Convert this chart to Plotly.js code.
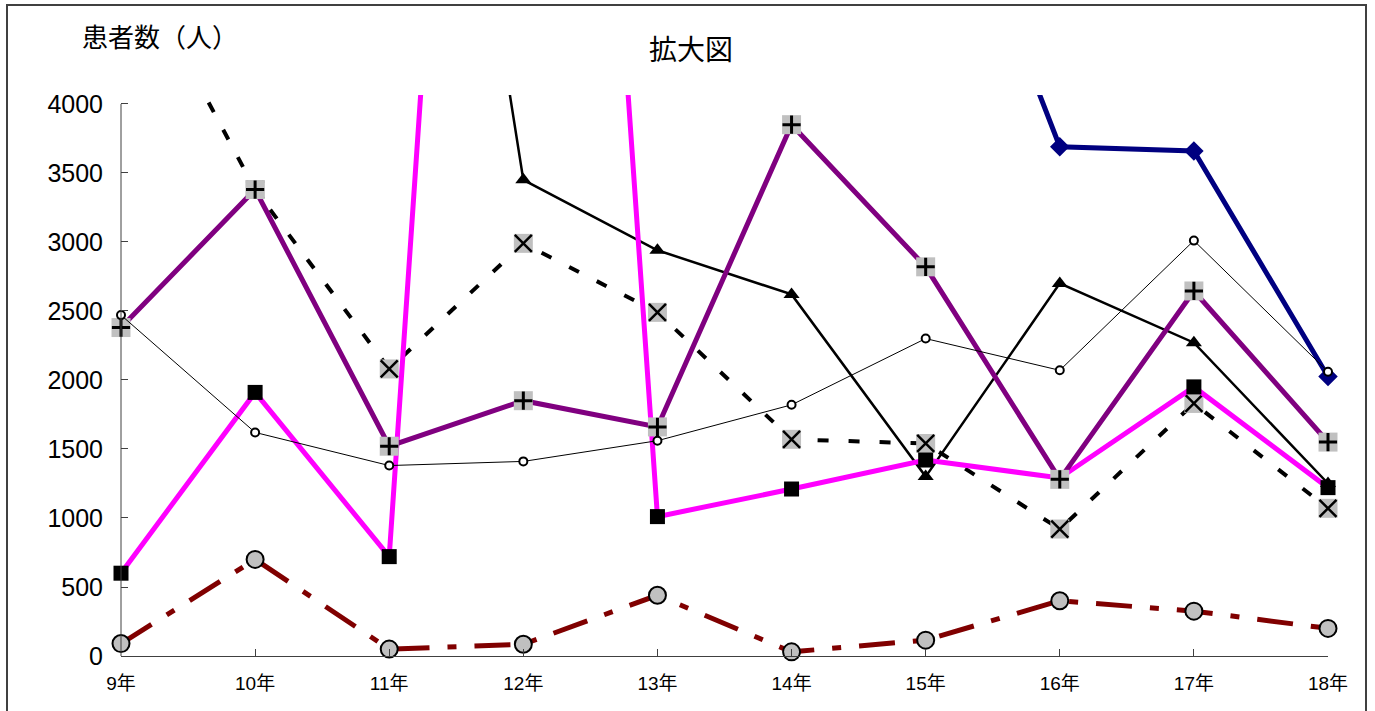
<!DOCTYPE html>
<html>
<head>
<meta charset="utf-8">
<script src="https://cdn.plot.ly/plotly-3.0.1.min.js"></script>
<style>html,body{margin:0;padding:0;background:#fff;}#chart{width:1375px;height:711px;}</style>
</head>
<body>
<div id="chart"></div>
<script>
// categories (years)
const years = ["9年","10年","11年","12年","13年","14年","15年","16年","17年","18年"];
const yTicks = [0, 500, 1000, 1500, 2000, 2500, 3000, 3500, 4000];

// series values (persons); values above 4000 run off the enlarged view
const thinCircle  = [2470, 1620, 1380, 1410, 1560, 1820, 2300, 2070, 3010, 2060];
const dashedCross = [5200, 3380, 2080, 2990, 2490, 1570, 1540, 920, 1830, 1070];
const triangle    = [null, null, 9600, 3450, 2940, 2620, 1300, 2700, 2270, 1250];
const magenta     = [600, 1910, 720, 15000, 1010, 1210, 1420, 1290, 1950, 1220];
const purple      = [2380, 3380, 1520, 1850, 1660, 3850, 2820, 1280, 2645, 1550];
const navy        = [null, null, null, null, null, null, 6200, 3690, 3660, 2025];
const darkRed     = [90, 700, 50, 85, 440, 30, 115, 400, 325, 200];

const YMAX = 4065;
const visible = arr => arr.map(v => (v === null || v > YMAX) ? null : v);

const traces = [];
function addSeries(vals, line, markers) {
  traces.push({x: years, y: vals, type: 'scatter', mode: 'lines', line: line,
               hoverinfo: 'skip', showlegend: false, connectgaps: false});
  markers.forEach(m => traces.push({x: years, y: visible(vals), type: 'scatter', mode: 'markers',
               marker: m, cliponaxis: false, hoverinfo: 'skip', showlegend: false}));
}

addSeries(darkRed, {color: '#800000', width: 5, dash: '36px,18px,9px,18px'},
  [{symbol: 'circle', size: 17, color: '#c0c0c0', line: {color: '#000', width: 2}}]);
addSeries(dashedCross, {color: '#000', width: 4, dash: '11px,20px'},
  [{symbol: 'square', size: 19, color: '#c0c0c0', line: {width: 0}},
   {symbol: 'x-thin', size: 17, color: '#000', line: {color: '#000', width: 2.5}}]);
addSeries(triangle, {color: '#000', width: 2.5},
  [{symbol: 'triangle-up', size: 14, color: '#000', line: {width: 0}}]);
addSeries(magenta, {color: '#ff00ff', width: 5},
  [{symbol: 'square', size: 15, color: '#000', line: {width: 0}}]);
addSeries(purple, {color: '#800080', width: 5},
  [{symbol: 'square', size: 19, color: '#c0c0c0', line: {width: 0}},
   {symbol: 'cross-thin', size: 13, color: '#000', line: {color: '#000', width: 3}}]);
addSeries(navy, {color: '#000080', width: 5},
  [{symbol: 'diamond', size: 15, color: '#000080', line: {width: 0}}]);
addSeries(thinCircle, {color: '#000', width: 1},
  [{symbol: 'circle', size: 8, color: '#fff', line: {color: '#000', width: 2}}]);

const layout = {
  width: 1375, height: 711,
  margin: {l: 121, r: 47, t: 95, b: 55, pad: 0},
  paper_bgcolor: '#fff', plot_bgcolor: '#fff',
  font: {family: 'Liberation Sans, Noto Sans CJK JP, sans-serif', color: '#000'},
  title: {text: '拡大図', x: 0.5025, xanchor: 'center', y: 1 - 50/711, yanchor: 'middle', yref: 'container',
          font: {family: 'Noto Sans CJK JP, sans-serif', size: 28, color: '#000'}},
  xaxis: {type: 'category', categoryorder: 'array', categoryarray: years, range: [0, 9],
          showgrid: false, zeroline: false, showline: true, linecolor: '#404040', linewidth: 1,
          ticks: 'inside', ticklen: 7, tickcolor: '#404040', tickwidth: 1,
          ticklabelstandoff: 10,
          tickfont: {size: 19, family: 'Liberation Sans, Noto Sans CJK JP, sans-serif'}},
  yaxis: {range: [0, YMAX], tickvals: yTicks, ticktext: yTicks.map(String),
          showgrid: false, zeroline: false, showline: false,
          ticks: 'inside', ticklen: 7, tickcolor: '#404040', tickwidth: 1,
          ticklabelstandoff: 17,
          tickfont: {size: 25, family: 'Liberation Sans, sans-serif'}},
  annotations: [{text: '患者数（人）', xref: 'paper', yref: 'paper', x: (80-121)/1207, y: (656-35)/561,
                 xanchor: 'left', yanchor: 'middle', showarrow: false,
                 font: {family: 'Noto Sans CJK JP, sans-serif', size: 26, color: '#000'}}],
  shapes: [
    {type: 'line', xref: 'paper', yref: 'y', x0: 0, x1: 0, y0: 0, y1: 4000,
     line: {color: '#404040', width: 1}},
    {type: 'rect', xref: 'paper', yref: 'paper', x0: (7-121)/1207, x1: (1366-121)/1207,
     y0: (656-720)/561, y1: (656-5)/561, line: {color: '#404040', width: 2}, fillcolor: 'rgba(0,0,0,0)'}
  ]
};

Plotly.newPlot('chart', traces, layout, {displayModeBar: false, staticPlot: true});
</script>
</body>
</html>
